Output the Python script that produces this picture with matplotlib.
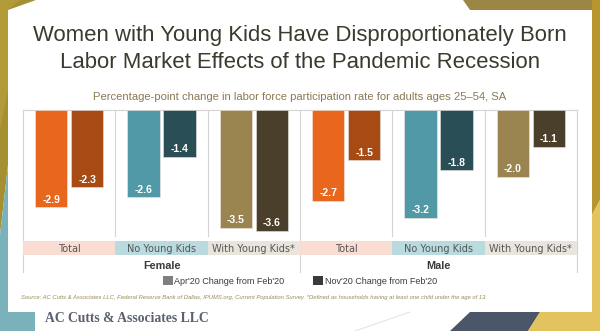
import matplotlib
matplotlib.use("Agg")
import matplotlib.pyplot as plt
from matplotlib.patches import Polygon, Rectangle, Patch
from matplotlib.lines import Line2D
import numpy as np

# ---------------- data ----------------
genders = ["Female", "Male"]
groups = ["Total", "No Young Kids", "With Young Kids*"]
apr_values = [-2.9, -2.6, -3.5, -2.7, -3.2, -2.0]
nov_values = [-2.3, -1.4, -3.6, -1.5, -1.8, -1.1]
series_labels = ["Apr'20 Change from Feb'20", "Nov'20 Change from Feb'20"]

apr_colors = ["#E8671C", "#5299A7", "#9A8551"]
nov_colors = ["#A84A13", "#2A4E55", "#4A3F2B"]
strip_colors = ["#FADDD2", "#B9DADF", "#E9E5DC"]

W, H = 600, 331
fig = plt.figure(figsize=(W / 100, H / 100), dpi=100)
fig.patch.set_facecolor("white")


def fx(x):
    return x / W


def fy(y):
    return 1 - y / H


def poly(points, color, z=0):
    p = Polygon([(fx(x), fy(y)) for x, y in points], closed=True,
                transform=fig.transFigure, facecolor=color, edgecolor="none", zorder=z)
    fig.add_artist(p)


# ---------------- decorative background ----------------
poly([(0, 0), (36, 0), (8, 10), (8, 165), (0, 235)], "#A58F30")
poly([(0, 0), (20, 0), (8, 10), (8, 90), (0, 130)], "#B29A38")
poly([(0, 235), (8, 165), (8, 312), (35, 312), (35, 331), (0, 331)], "#7AB2BC")
poly([(463, 0), (600, 0), (600, 10), (470, 10)], "#9C8645")
poly([(592, 0), (600, 0), (600, 200), (592, 215)], "#B8952F")
poly([(592, 215), (600, 200), (600, 331), (592, 331)], "#E3C35E")
poly([(470, 312), (540, 312), (528, 331), (450, 331)], "#4B5769")
poly([(540, 312), (600, 312), (600, 331), (528, 331)], "#E3C35E")
fig.add_artist(Line2D([fx(355), fx(410)], [fy(331), fy(312)], transform=fig.transFigure,
                      color="#dddddd", lw=0.6))
# white panel
fig.add_artist(Rectangle((fx(8), fy(312)), fx(592) - fx(8), fy(10) - fy(312),
                         transform=fig.transFigure, facecolor="white", edgecolor="none", zorder=1))

# ---------------- titles ----------------
title_color = "#3b3a2e"
fig.text(0.5, fy(36), "Women with Young Kids Have Disproportionately Born",
         ha="center", va="center", fontsize=15.9, color=title_color,
         family=["Liberation Sans", "DejaVu Sans"], zorder=3)
fig.text(0.5, fy(62), "Labor Market Effects of the Pandemic Recession",
         ha="center", va="center", fontsize=15.9, color=title_color,
         family=["Liberation Sans", "DejaVu Sans"], zorder=3)
fig.text(0.5, fy(97), "Percentage-point change in labor force participation rate for adults ages 25\u201354, SA",
         ha="center", va="center", fontsize=8.1, color="#8A7A52",
         family=["Liberation Sans Narrow", "Liberation Sans", "DejaVu Sans"], zorder=3)

# ---------------- chart axes ----------------
x_left, x_right, y_top, y_bot = 23, 577, 110, 236
ax = fig.add_axes([fx(x_left), fy(y_bot), fx(x_right) - fx(x_left), fy(y_top) - fy(y_bot)])
ax.set_zorder(2)
ax.patch.set_alpha(0)

n = len(apr_values)
centers = np.arange(n) + 0.5
bw = 0.35
off = 0.195
for i in range(n):
    g = i % 3
    ax.bar(centers[i] - off, apr_values[i], width=bw, color=apr_colors[g],
           edgecolor="#f4e9e0", linewidth=0.4, zorder=3)
    ax.bar(centers[i] + off, nov_values[i], width=bw, color=nov_colors[g],
           edgecolor="#e9e6e0", linewidth=0.4, zorder=3)
    for xc, v in ((centers[i] - off, apr_values[i]), (centers[i] + off, nov_values[i])):
        ax.annotate(f"{v:.1f}", (xc, v), xytext=(0, 5.6), textcoords="offset points",
                    ha="center", va="center", color="white", fontsize=7.5, fontweight="bold",
                    family=["Liberation Sans", "DejaVu Sans"], zorder=4)

ax.set_xlim(0, n)
ax.set_ylim(-126 / 33.6, 0)
ax.axis("off")

line_color = "#d4d4d4"
# group dividers
for k in (1, 2, 4, 5):
    xx = fx(x_left) + (fx(x_right) - fx(x_left)) * k / n
    fig.add_artist(Line2D([xx, xx], [fy(110), fy(236)], transform=fig.transFigure,
                          color=line_color, lw=0.8, zorder=2))
# panel borders
for k in (0, 3, 6):
    xx = fx(x_left) + (fx(x_right) - fx(x_left)) * k / n
    fig.add_artist(Line2D([xx, xx], [fy(110), fy(272)], transform=fig.transFigure,
                          color=line_color, lw=0.8, zorder=2))
fig.add_artist(Line2D([fx(x_left), fx(x_right)], [fy(110), fy(110)], transform=fig.transFigure,
                      color=line_color, lw=0.8, zorder=2))

# category strips
gw = (fx(x_right) - fx(x_left)) / n
for i in range(n):
    x0 = fx(x_left) + gw * i
    fig.add_artist(Rectangle((x0, fy(255)), gw, fy(241) - fy(255), transform=fig.transFigure,
                             facecolor=strip_colors[i % 3], edgecolor="none", zorder=2))
    fig.text(x0 + gw / 2, fy(248.5), groups[i % 3], ha="center", va="center",
             fontsize=7.0, color="#555555", family=["DejaVu Sans"], zorder=3)

for j, gname in enumerate(genders):
    xc = fx(x_left) + gw * (3 * j + 1.5)
    fig.text(xc, fy(266), gname, ha="center", va="center", fontsize=7.8, fontweight="bold",
             color="#3a3a3a", family=["Liberation Sans Narrow", "Liberation Sans", "DejaVu Sans"],
             zorder=3)

# legend
handles = [Patch(facecolor="#7f7f7f", edgecolor="none"),
           Patch(facecolor="#3a3a3a", edgecolor="none")]
leg = fig.legend(handles, series_labels, loc="center", bbox_to_anchor=(0.5, fy(281)),
                 ncol=2, frameon=False,
                 handlelength=1.1, handleheight=1.1, handletextpad=0.2, columnspacing=3.2,
                 prop={"family": ["Liberation Sans Narrow", "Liberation Sans", "DejaVu Sans"], "size": 6.5})
leg.set_zorder(3)
for t in leg.get_texts():
    t.set_color("#3a3a3a")

# source
fig.text(fx(21), fy(298),
         "Source: AC Cutts & Associates LLC, Federal Reserve Bank of Dallas, IPUMS.org, Current Population Survey. "
         "*Defined as households having at least one child under the age of 13.",
         ha="left", va="center", fontsize=4.2, style="italic", color="#9A8A5A",
         family=["Liberation Sans Narrow", "Liberation Sans", "DejaVu Sans"], zorder=3)

# logo text
fig.text(fx(45), fy(319), "AC Cutts & Associates LLC", ha="left", va="center",
         fontsize=9.8, color="#5B6170", fontweight="bold",
         family=["Liberation Serif", "DejaVu Serif"], zorder=3)

fig.savefig("out.png", dpi=100)
